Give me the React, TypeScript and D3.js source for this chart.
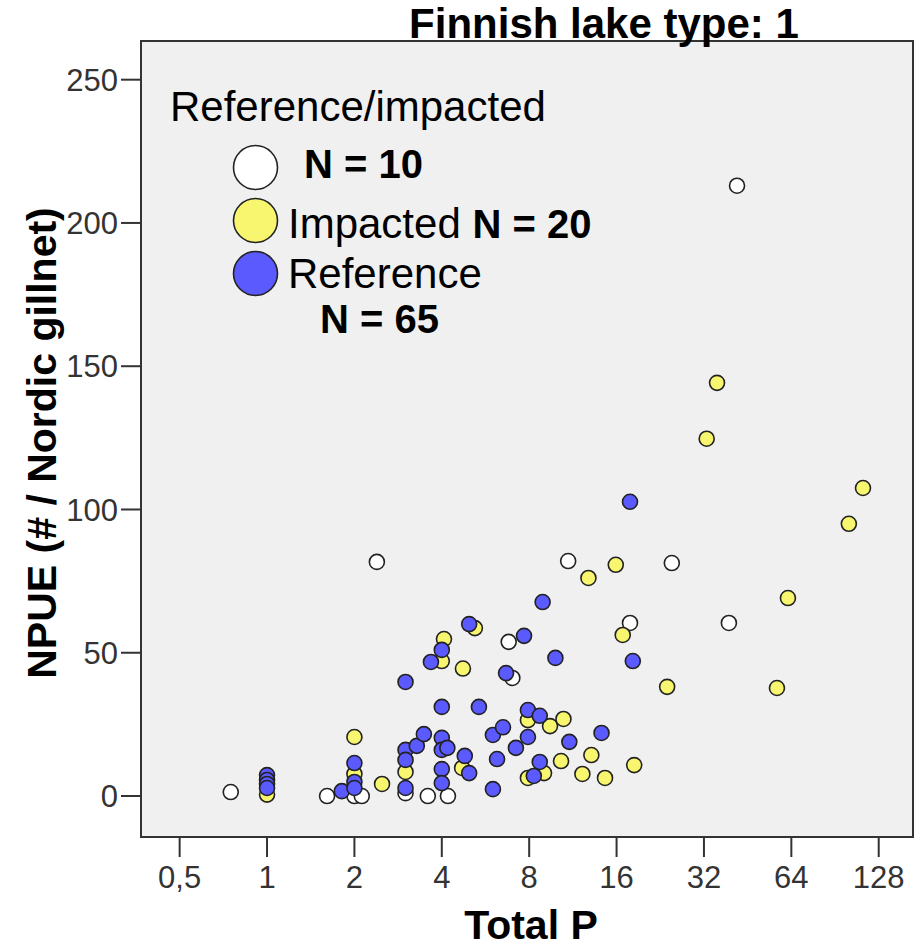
import React from "react";
import * as d3 from "d3";

// Total P (x) / NPUE (y)
const unknownPts: [number, number][] = [
  [0.75, 1.4], [1.61, 0], [2.0, 0], [2.12, 0], [2.39, 81.7], [3.0, 1], [3.58, 0],
  [4.2, 0], [6.8, 53.8], [7.0, 41.2], [10.9, 82], [24.8, 81.3], [17.8, 60.4],
  [39, 60.4], [41.6, 213],
];

const impactedPts: [number, number][] = [
  [1.0, 0.5], [2.0, 20.6], [2.0, 7.7], [2.49, 4.2], [3.0, 8.4], [4.07, 54.8],
  [4.0, 47.1], [5.2, 58.6], [4.73, 44.5], [4.7, 9.8], [7.92, 26.5], [9.44, 24.4],
  [10.5, 26.9], [9.0, 8.0], [7.92, 6.3], [10.3, 12.2], [13.1, 14.3], [12.2, 7.7],
  [14.6, 6.3], [18.4, 10.8], [12.8, 76.1], [15.9, 80.7], [16.8, 56.2], [23.9, 38.1],
  [35.5, 144.2], [32.7, 124.7], [62.3, 69.1], [57.1, 37.7], [113, 107.5], [101, 95],
];

const referencePts: [number, number][] = [
  [1.0, 7.3], [1.0, 5.6], [1.0, 4.2], [1.0, 2.8], [1.81, 1.7], [2.0, 11.5],
  [2.0, 4.9], [2.0, 2.8], [3.0, 39.8], [3.0, 16.1], [3.0, 12.6], [3.0, 2.8],
  [3.28, 17.5], [3.47, 21.6], [3.67, 46.8], [4.0, 51], [4.0, 31.1], [4.0, 20.3],
  [4.0, 16.1], [4.0, 9.4], [4.0, 4.5], [4.18, 16.8], [4.97, 60], [4.8, 14],
  [4.97, 8], [5.37, 31.1], [6.0, 21.3], [6.5, 24], [6.2, 12.9], [6.0, 2.4],
  [6.66, 42.9], [7.68, 55.9], [7.92, 30.0], [8.7, 28], [7.92, 20.6], [7.2, 16.8],
  [8.7, 11.9], [8.3, 7.0], [8.9, 67.7], [9.85, 48.2], [11, 18.9], [14.2, 22],
  [18.2, 47.1], [17.8, 102.7],
];

const xTicks = [0.5, 1, 2, 4, 8, 16, 32, 64, 128];
const yTicks = [0, 50, 100, 150, 200, 250];

const groups = [
  { name: "", n: "N = 10", fill: "#ffffff", pts: unknownPts },
  { name: "Impacted", n: "N = 20", fill: "#f8f66e", pts: impactedPts },
  { name: "Reference", n: "N = 65", fill: "#5a5afe", pts: referencePts },
];

const W = 918;
const H = 948;
const frame = { left: 141, top: 41, right: 913, bottom: 837 };
const font = "'Liberation Sans', Arial, sans-serif";

export default function App() {
  const x = d3.scaleLog().base(2).domain([0.368, 168]).range([frame.left, frame.right]);
  const y = d3.scaleLinear().domain([-14.3, 263.5]).range([frame.bottom, frame.top]);

  return (
    <svg width={W} height={H} style={{ position: "absolute", left: 0, top: 0 }} fontFamily={font}>
      <rect
        x={frame.left}
        y={frame.top}
        width={frame.right - frame.left}
        height={frame.bottom - frame.top}
        fill="#f0f0f0"
        stroke="#333"
        strokeWidth={2}
      />

      {/* y axis */}
      {yTicks.map((t) => (
        <g key={t}>
          <line x1={frame.left - 20} x2={frame.left} y1={y(t)} y2={y(t)} stroke="#333" strokeWidth={2} />
          <text x={frame.left - 23} y={y(t)} dy="0.36em" textAnchor="end" fontSize={31} fill="#333">
            {t}
          </text>
        </g>
      ))}

      {/* x axis */}
      {xTicks.map((t) => (
        <g key={t}>
          <line x1={x(t)} x2={x(t)} y1={frame.bottom} y2={frame.bottom + 20} stroke="#333" strokeWidth={2} />
          <text x={x(t)} y={888} textAnchor="middle" fontSize={31} fill="#333">
            {String(t).replace(".", ",")}
          </text>
        </g>
      ))}

      <text x={531} y={939} textAnchor="middle" fontSize={41} fontWeight="bold">
        Total P
      </text>
      <text
        transform={`translate(56,443) rotate(-90)`}
        textAnchor="middle"
        fontSize={41}
        fontWeight="bold"
      >
        NPUE (# / Nordic gillnet)
      </text>
      <text x={604} y={38} textAnchor="middle" fontSize={42} fontWeight="bold">
        Finnish lake type: 1
      </text>

      {/* points */}
      {groups.map((g) => (
        <g key={g.n}>
          {g.pts.map((p, i) => (
            <circle key={i} cx={x(p[0])} cy={y(p[1])} r={7.5} fill={g.fill} stroke="#222" strokeWidth={1.6} />
          ))}
        </g>
      ))}

      {/* legend */}
      <text x={170} y={121} fontSize={42}>Reference/impacted</text>
      {groups.map((g, i) => (
        <circle key={g.n} cx={255.5} cy={167.5 + i * 53} r={22} fill={g.fill} stroke="#222" strokeWidth={1.6} />
      ))}
      <text x={304} y={178} fontSize={40} fontWeight="bold">N = 10</text>
      <text x={288} y={238} fontSize={42}>
        Impacted <tspan fontSize={40} fontWeight="bold">N = 20</tspan>
      </text>
      <text x={288} y={288} fontSize={42}>Reference</text>
      <text x={320} y={333} fontSize={40} fontWeight="bold">N = 65</text>
    </svg>
  );
}
